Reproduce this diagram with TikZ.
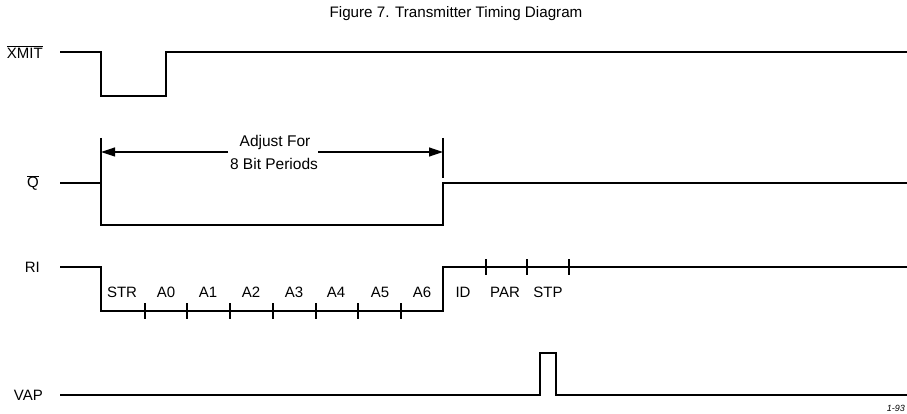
\documentclass[tikz,border=0pt]{standalone}
\usepackage{fontspec}
\setmainfont{Liberation Sans}
\usetikzlibrary{arrows.meta}
\begin{document}
\begin{tikzpicture}[x=1pt,y=-1pt,
  sig/.style={line width=2.4pt,line join=miter,line cap=butt},
  tick/.style={line width=1.4pt},
  lbl/.style={font=\fontsize{15}{17}\selectfont,inner sep=0pt,anchor=east},
  bit/.style={font=\fontsize{15}{17}\selectfont,inner sep=0pt,anchor=base},
  dim/.style={line width=1.2pt}]
\useasboundingbox (0,0) rectangle (907,414);
% title
\node[font=\fontsize{15.2}{17}\selectfont,inner sep=0pt,anchor=base] (title) at (456,18) {Figure 7. Transmitter Timing Diagram};
% labels
\node[lbl] (lx) at (43,52) {$\overline{\mbox{XMIT}}$};
\node[lbl] (lq) at (39,183) {$\overline{\mbox{Q}}$};
\node[lbl] (lr) at (40,267) {RI};
\node[lbl] (lv) at (43,395) {VAP};
% XMIT
\draw[sig] (60,52) -- (101,52) -- (101,96) -- (166,96) -- (166,52) -- (910,52);
% Q
\draw[sig] (60,183) -- (101,183) -- (101,225) -- (443,225) -- (443,183) -- (910,183);
% dimension
\coordinate (dl) at (101,152);
\coordinate (dr) at (443,152);
\coordinate (dla) at (228,152);
\coordinate (dra) at (318,152);
\draw[dim] (101,138) -- (101,183);
\draw[dim] (443,138) -- (443,178);
\node[bit,font=\fontsize{15.5}{17}\selectfont] (adj) at (275,147) {Adjust For};
\node[bit,font=\fontsize{15.5}{17}\selectfont] (bits) at (274,170) {8 Bit Periods};
\draw[dim,-{Triangle[length=14pt,width=9pt]}] (dla) -- (dl);
\draw[dim,-{Triangle[length=14pt,width=9pt]}] (dra) -- (dr);
% RI
\draw[sig] (60,267) -- (101,267) -- (101,311) -- (443,311) -- (443,267) -- (910,267);
\foreach \x in {145,187,230,273,316,358,401} \draw[tick] (\x,303) -- (\x,319);
\foreach \x in {486,527,569} \draw[tick] (\x,259) -- (\x,275);
\foreach \x/\t in {122/STR,166/A0,208/A1,251/A2,294/A3,336/A4,380/A5,422/A6,463/ID,505/PAR,548/STP}
  \node[bit] (b\t) at (\x,297) {\t};
% VAP
\draw[sig] (60,395) -- (540,395) -- (540,353) -- (556,353) -- (556,395) -- (910,395);
% page number
\node[font=\fontsize{9}{10}\selectfont\itshape,inner sep=0pt,anchor=base east] (pg) at (905,411) {1-93};
\end{tikzpicture}
\end{document}
